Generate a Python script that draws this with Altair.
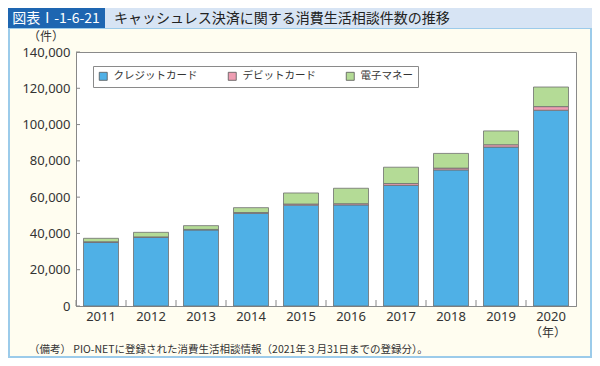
import altair as alt
import pandas as pd

years = ["2011", "2012", "2013", "2014", "2015", "2016", "2017", "2018", "2019", "2020"]
series = ["クレジットカード", "デビットカード", "電子マネー"]
credit = [35100, 37900, 41900, 51100, 55600, 55700, 66500, 75000, 87600, 107900]
debit = [300, 200, 300, 400, 600, 700, 1000, 1000, 1300, 2000]
emoney = [1900, 2500, 2100, 2700, 6100, 8500, 9000, 8100, 7600, 10800]
colors = ["#4FB0E6", "#EE9DB2", "#B4DB96"]
y_ticks = [0, 20000, 40000, 60000, 80000, 100000, 120000, 140000]

fig_label = "図表Ⅰ-1-6-21"
fig_title = "キャッシュレス決済に関する消費生活相談件数の推移"
y_unit = "（件）"
x_unit = "（年）"
note = "（備考）  PIO-NETに登録された消費生活相談情報（2021年３月31日までの登録分）。"

rows = []
for i, yr in enumerate(years):
    for k, (name, vals) in enumerate(zip(series, [credit, debit, emoney])):
        rows.append({"year": yr, "series": name, "value": vals[i], "ord": k})
df = pd.DataFrame(rows)

JP = "Noto Sans CJK JP"
NUM = "Noto Sans"
one = alt.Data(values=[{"a": 1}])

x_scale = alt.Scale(paddingInner=0.3, paddingOuter=0.15)
y_scale = alt.Scale(domain=[0, 140000], nice=False)
x_axis = alt.Axis(title=None, labelAngle=0, ticks=False, labelFont=NUM,
                  labelFontSize=13, labelColor="#333", labelPadding=4,
                  domainColor="#888", domainWidth=1)
y_axis = alt.Axis(values=y_ticks, labelExpr="format(datum.value, ',')", title=None,
                  ticks=False, grid=False,
                  labelFont=NUM, labelFontSize=13, labelColor="#333",
                  labelPadding=6, domainColor="#888", domainWidth=1)

bars = alt.Chart(df).mark_bar(stroke="#6e6e6e", strokeWidth=0.8).encode(
    x=alt.X("year:N", sort=years, scale=x_scale, axis=x_axis),
    y=alt.Y("value:Q", stack="zero", scale=y_scale, axis=y_axis),
    color=alt.Color("series:N", sort=series, scale=alt.Scale(domain=series, range=colors),
                    legend=alt.Legend(orient="none", legendX=17, legendY=14,
                                      direction="horizontal", columns=3, title=None,
                                      symbolType="square", symbolSize=64,
                                      symbolStrokeColor="#555", symbolStrokeWidth=0.8,
                                      labelFont=JP, labelFontSize=10.5, labelColor="#333",
                                      labelOffset=5, columnPadding=28, padding=5,
                                      strokeColor="#8a8a8a", fillColor="white")),
    order=alt.Order("ord:Q", sort="ascending"),
)

xticks_df = pd.DataFrame({"year": years})
xticks = alt.Chart(xticks_df).mark_rule(color="#888", strokeWidth=1, xOffset=-7.5).encode(
    x=alt.X("year:N", sort=years, scale=x_scale, bandPosition=0, axis=x_axis),
    y=alt.value(254), y2=alt.value(248),
)

yticks_df = pd.DataFrame({"value": y_ticks})
yticks = alt.Chart(yticks_df).mark_rule(color="#888", strokeWidth=1).encode(
    y=alt.Y("value:Q", scale=y_scale, axis=y_axis),
    x=alt.value(0), x2=alt.value(4),
)

border = alt.Chart(one).mark_rect(fillOpacity=0, stroke="#9CCBEA", strokeWidth=2).encode(
    x=alt.value(-67), x2=alt.value(515), y=alt.value(-24), y2=alt.value(305))
bar_dark = alt.Chart(one).mark_rect(color="#1E66B1").encode(
    x=alt.value(-68), x2=alt.value(29), y=alt.value(-44), y2=alt.value(-24))
bar_light = alt.Chart(one).mark_rect(color="#D7E4F4").encode(
    x=alt.value(29), x2=alt.value(516), y=alt.value(-44), y2=alt.value(-24))
t_label = alt.Chart(one).mark_text(font=JP, fontSize=14, color="white", align="center",
                                   baseline="middle").encode(
    x=alt.value(-20), y=alt.value(-33), text=alt.value(fig_label))
t_title = alt.Chart(one).mark_text(font=JP, fontSize=14, color="#222", align="left",
                                   baseline="middle").encode(
    x=alt.value(38), y=alt.value(-33), text=alt.value(fig_title))
t_yunit = alt.Chart(one).mark_text(font=JP, fontSize=12, color="#333", align="center",
                                   baseline="middle").encode(
    x=alt.value(-30), y=alt.value(-15), text=alt.value(y_unit))
t_xunit = alt.Chart(one).mark_text(font=JP, fontSize=12, color="#333", align="center",
                                   baseline="middle").encode(
    x=alt.value(472), y=alt.value(281), text=alt.value(x_unit))
t_note = alt.Chart(one).mark_text(font=JP, fontSize=10.5, color="#333", align="left",
                                  baseline="middle").encode(
    x=alt.value(-47), y=alt.value(298), text=alt.value(note))

chart = alt.layer(
    border, bar_dark, bar_light, t_label, t_title, t_yunit, t_xunit, t_note,
    bars, xticks, yticks,
).properties(
    width=500, height=254,
    autosize=alt.AutoSizeParams(type="none"),
    padding={"left": 68, "top": 44, "right": 16, "bottom": 52},
).configure(
    background="#FFFDF0",
).configure_view(
    fill="white", stroke="#8a8a8a", strokeWidth=1,
)

chart.save("out.html", embed_options={"renderer": "svg", "actions": False})
